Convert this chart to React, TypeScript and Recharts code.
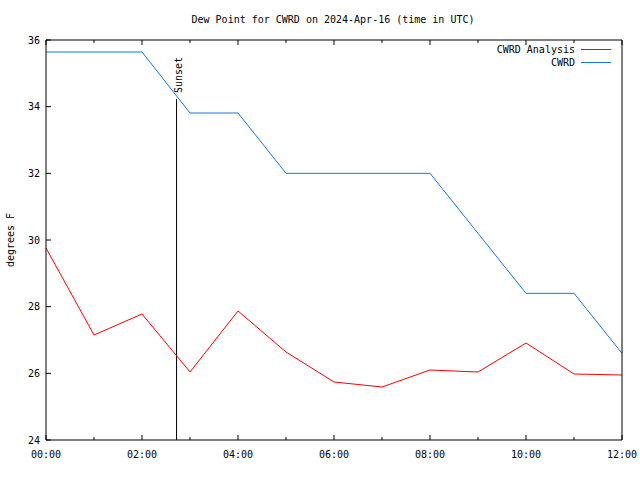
import {
  Line,
  LineChart,
  ReferenceLine,
  XAxis,
  YAxis,
} from "recharts";

const HOURS = [0, 1, 2, 3, 4, 5, 6, 7, 8, 9, 10, 11, 12];
const ANALYSIS = [29.76, 27.15, 27.78, 26.04, 27.87, 26.64, 25.74, 25.59, 26.1, 26.04, 26.91, 25.98, 25.95];
const OBSERVED = [35.64, 35.64, 35.64, 33.81, 33.81, 32.0, 32.0, 32.0, 32.0, 30.2, 28.4, 28.4, 26.6];
const Y_TICKS = [24, 26, 28, 30, 32, 34, 36];
const SUNSET_HOUR = 2.72;
const SUNSET_TOP = 34.23;

const data = HOURS.map((h, i) => ({ h, analysis: ANALYSIS[i], cwrd: OBSERVED[i] }));

const FONT = "'DejaVu Sans Mono', monospace";
const RED = "#ff0000";
const BLUE = "#1478e6";
const tick = { fill: "#000", fontSize: 10, fontFamily: FONT };
const fmtHour = (v: number) => `${String(v).padStart(2, "0")}:00`;
const blank = () => "";

// hour ticks: long + label on even hours, short on odd ones
function HourTick(props: any) {
  const { x, y, payload, side } = props;
  const major = payload.value % 2 === 0;
  const len = major ? 5 : 3;
  const dir = side === "top" ? 1 : -1;
  return (
    <g>
      <line x1={x} x2={x} y1={y} y2={y + dir * len} stroke="#000" />
      {side === "bottom" && major && (
        <text x={x} y={y + 18} textAnchor="middle" fontSize={10} fontFamily={FONT} fill="#000">
          {fmtHour(payload.value)}
        </text>
      )}
    </g>
  );
}

function LegendBox() {
  const rows = [
    { label: "CWRD Analysis", color: RED },
    { label: "CWRD", color: BLUE },
  ];
  return (
    <div style={{ position: "absolute", top: 43, left: 400, width: 211, fontFamily: FONT, fontSize: 10, color: "#000" }}>
      {rows.map((r) => (
        <div key={r.label} style={{ display: "flex", alignItems: "center", justifyContent: "flex-end", height: 13 }}>
          <span>{r.label}</span>
          <span style={{ display: "inline-block", width: 30, height: 1, background: r.color, marginLeft: 6 }} />
        </div>
      ))}
    </div>
  );
}

function SunsetLabel(props: any) {
  const vb = props.viewBox ?? {};
  const x = (vb.x ?? 0) + 5;
  const y = (vb.y ?? 0) - 24;
  return (
    <text x={x} y={y} transform={`rotate(-90 ${x} ${y})`} textAnchor="middle" fontSize={10} fontFamily={FONT} fill="#000">
      Sunset
    </text>
  );
}

export default function App() {
  return (
    <div style={{ position: "absolute", left: 0, top: 0, width: 640, height: 480, background: "#fff" }}>
      <div style={{ position: "absolute", top: 14, left: 0, width: 666, textAlign: "center", fontFamily: FONT, fontSize: 10 }}>
        Dew Point for CWRD on 2024-Apr-16 (time in UTC)
      </div>
      <LineChart width={640} height={480} data={data} margin={{ top: 39, right: 17, left: 0, bottom: 0 }}>
        <XAxis
          dataKey="h"
          type="number"
          domain={[0, 12]}
          ticks={HOURS}
          interval={0}
          tick={<HourTick side="bottom" />}
          tickLine={false}
          height={40}
          tickSize={0}
          tickMargin={0}
          axisLine={{ stroke: "#000" }}
        />
        <XAxis
          xAxisId="top"
          orientation="top"
          dataKey="h"
          type="number"
          domain={[0, 12]}
          ticks={HOURS}
          interval={0}
          tick={<HourTick side="top" />}
          tickLine={false}
          height={1}
          tickSize={0}
          tickMargin={0}
          axisLine={{ stroke: "#000" }}
        />
        <YAxis
          domain={[24, 36]}
          ticks={Y_TICKS}
          interval={0}
          tick={tick}
          width={46}
          tickSize={-5}
          tickMargin={11}
          axisLine={{ stroke: "#000" }}
          tickLine={{ stroke: "#000" }}
          label={{ value: "degrees F", angle: -90, position: "insideLeft", offset: 10, style: { fontFamily: FONT, fontSize: 10, fill: "#000", textAnchor: "middle" } }}
        />
        <YAxis
          yAxisId="right"
          orientation="right"
          domain={[24, 36]}
          ticks={Y_TICKS}
          interval={0}
          tickFormatter={blank}
          width={1}
          tickSize={-5}
          axisLine={{ stroke: "#000" }}
          tickLine={{ stroke: "#000" }}
        />
        <ReferenceLine
          segment={[{ x: SUNSET_HOUR, y: 24 }, { x: SUNSET_HOUR, y: SUNSET_TOP }]}
          stroke="#000"
          label={<SunsetLabel />}
        />
        <Line dataKey="analysis" name="CWRD Analysis" stroke={RED} strokeWidth={1} dot={false} isAnimationActive={false} />
        <Line dataKey="cwrd" name="CWRD" stroke={BLUE} strokeWidth={1} dot={false} isAnimationActive={false} />
      </LineChart>
      <LegendBox />
    </div>
  );
}
